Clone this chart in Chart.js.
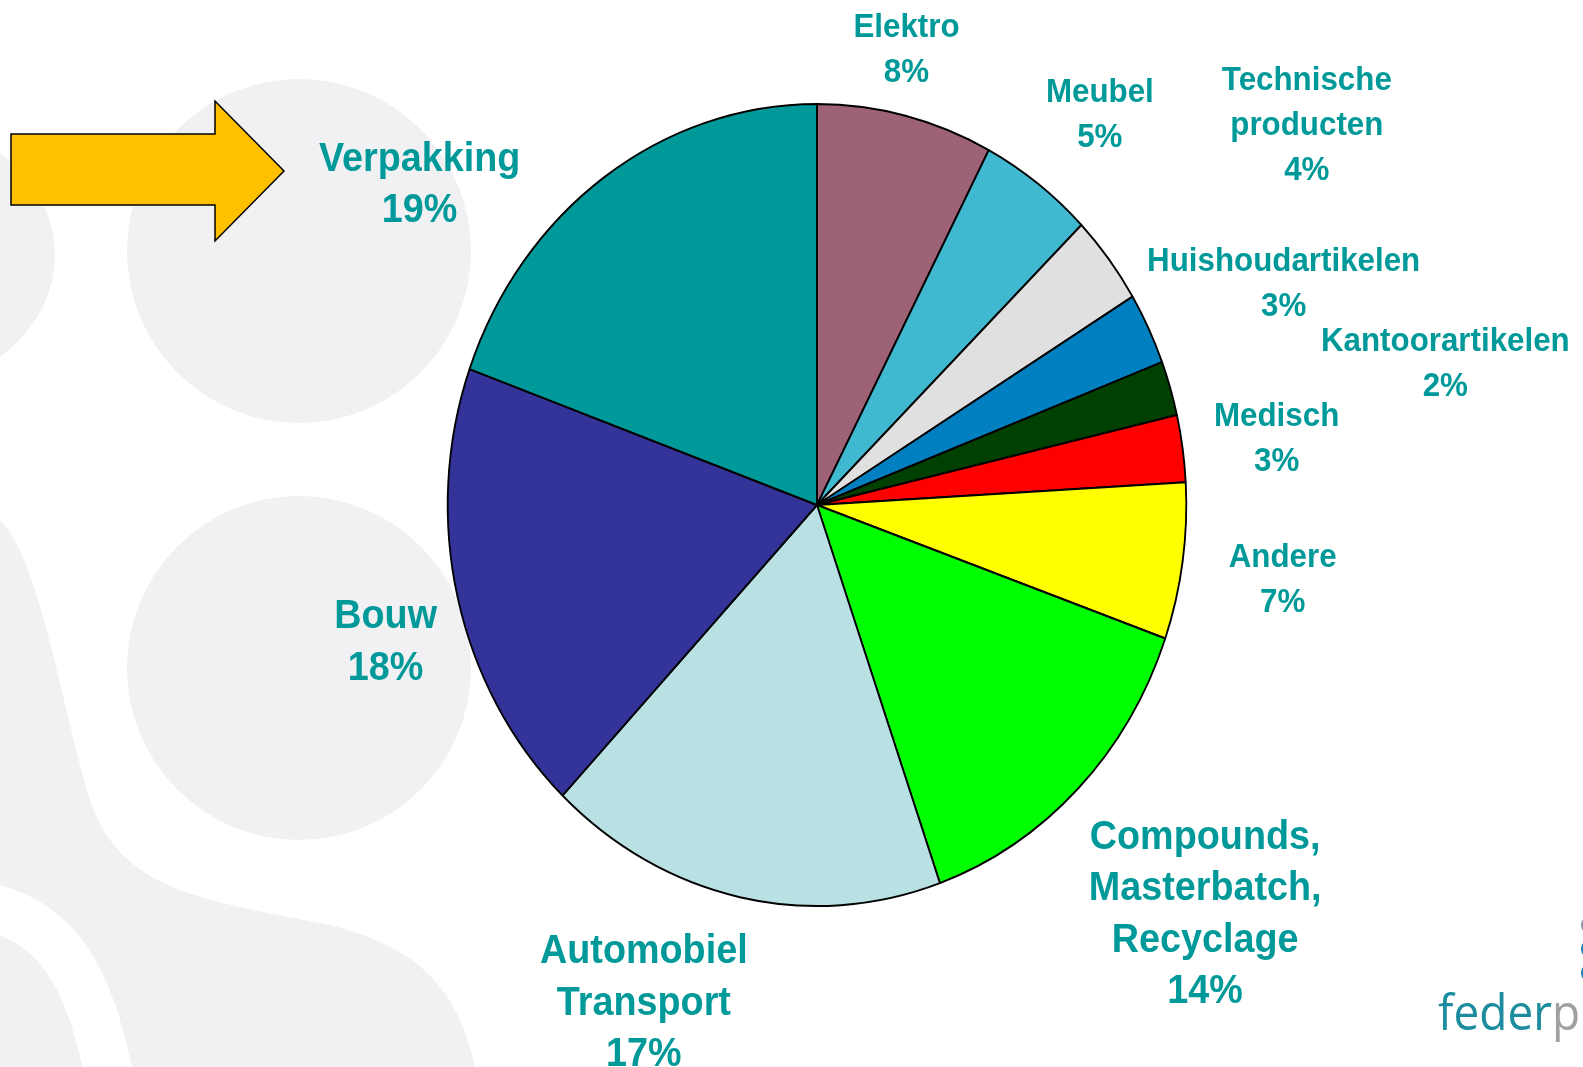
<!DOCTYPE html>
<html>
<head>
<meta charset="utf-8">
<script src="https://cdn.jsdelivr.net/npm/chart.js@4.4.1/dist/chart.umd.min.js"></script>
<style>
  html, body { margin: 0; padding: 0; background: #fff; overflow: hidden; }
  canvas { display: block; }
</style>
</head>
<body>
<canvas id="myChart" width="1583" height="1067"></canvas>
<script>
// sectors, clockwise from 12 o'clock
let categories = [
    ['Elektro'],
    ['Meubel'],
    ['Technische', 'producten'],
    ['Huishoudartikelen'],
    ['Kantoorartikelen'],
    ['Medisch'],
    ['Andere'],
    ['Compounds,', 'Masterbatch,', 'Recyclage'],
    ['Automobiel', 'Transport'],
    ['Bouw'],
    ['Verpakking']
]

// share of each slice as drawn
let shares = [7.7, 5.0, 3.6, 2.9, 2.2, 2.7, 6.3, 14.2, 17.5, 18.4, 19.5]

// percentages as printed on the slide
let percentLabels = ['8%', '5%', '4%', '3%', '2%', '3%', '7%', '14%', '17%', '18%', '19%']

let sliceColors = [
    '#9e6276',
    '#40b8cf',
    '#e0e0e0',
    '#0080c0',
    '#004000',
    '#ff0000',
    '#ffff00',
    '#00ff00',
    '#b9e0e3',
    '#333399',
    '#009999'
]

// label placement: offset from the outer edge of each slice, and big/small text
let labelOffsets = [
    [1, -79], [62, -82], [198, -169], [135, -58], [275, -37], [94, -22],
    [100, 5], [127, 60], [-96, 66], [-72, 31], [-185, -6]
]
let bigLabel = [false, false, false, false, false, false, false, true, true, true, true]

// the slide is squeezed horizontally
const SQUEEZE = 0.921
const TEAL = '#009999'

let squeezePlugin = {
    id: 'squeeze',
    beforeDatasetsDraw(chart) {
        let arc = chart.getDatasetMeta(0).data[0]
        let ctx = chart.ctx
        ctx.save()
        ctx.translate(arc.x, 0)
        ctx.scale(SQUEEZE, 1)
        ctx.translate(-arc.x, 0)
    },
    afterDatasetsDraw(chart) {
        chart.ctx.restore()
    }
}

let backdropPlugin = {
    id: 'backdrop',
    beforeDraw(chart) {
        let ctx = chart.ctx
        ctx.save()
        ctx.fillStyle = '#ffffff'
        ctx.fillRect(0, 0, chart.width, chart.height)

        ctx.fillStyle = '#f1f1f4'
        ctx.beginPath(); ctx.arc(299, 251, 172, 0, Math.PI * 2); ctx.fill()
        ctx.beginPath(); ctx.arc(299, 668, 172, 0, Math.PI * 2); ctx.fill()
        ctx.beginPath(); ctx.ellipse(-105, 255, 160, 135, 0, 0, Math.PI * 2); ctx.fill()

        ctx.beginPath()
        ctx.moveTo(0, 520)
        ctx.bezierCurveTo(40, 560, 60, 700, 90, 800)
        ctx.bezierCurveTo(120, 890, 200, 900, 330, 925)
        ctx.bezierCurveTo(430, 950, 460, 1000, 475, 1067)
        ctx.lineTo(0, 1067)
        ctx.closePath()
        ctx.fill()

        ctx.strokeStyle = '#ffffff'
        ctx.lineWidth = 48
        ctx.beginPath()
        ctx.moveTo(-20, 905)
        ctx.bezierCurveTo(60, 920, 90, 980, 110, 1080)
        ctx.stroke()

        // arrow
        ctx.fillStyle = '#ffc000'
        ctx.strokeStyle = '#000000'
        ctx.lineWidth = 1.5
        ctx.beginPath()
        ctx.moveTo(11, 134)
        ctx.lineTo(215, 134)
        ctx.lineTo(215, 101)
        ctx.lineTo(284, 171)
        ctx.lineTo(215, 241)
        ctx.lineTo(215, 205)
        ctx.lineTo(11, 205)
        ctx.closePath()
        ctx.fill()
        ctx.stroke()

        // logo
        ctx.font = '50px "Open Sans"'
        ctx.textBaseline = 'alphabetic'
        ctx.textAlign = 'left'
        ctx.save()
        ctx.translate(1438, 1030)
        ctx.scale(0.92, 1)
        ctx.fillStyle = '#1d8c9e'
        ctx.fillText('feder', 0, 0)
        let w = ctx.measureText('feder').width
        ctx.fillStyle = '#a0a0a0'
        ctx.fillText('p', w, 0)
        ctx.restore()
        let dots = ['#8a97a8', '#1a7fb5', '#1a7fb5']
        dots.forEach((c, i) => {
            ctx.fillStyle = c
            ctx.beginPath(); ctx.arc(1591, 925 + i * 24, 10, 0, Math.PI * 2); ctx.fill()
        })
        ctx.restore()
    }
}

let labelPlugin = {
    id: 'sliceLabels',
    afterDraw(chart) {
        let ctx = chart.ctx
        let arcs = chart.getDatasetMeta(0).data
        ctx.save()
        ctx.fillStyle = TEAL
        ctx.textAlign = 'center'
        ctx.textBaseline = 'alphabetic'
        arcs.forEach((arc, i) => {
            let mid = (arc.startAngle + arc.endAngle) / 2
            let px = arc.x + Math.cos(mid) * arc.outerRadius * SQUEEZE
            let py = arc.y + Math.sin(mid) * arc.outerRadius
            let ax = px + labelOffsets[i][0]
            let ay = py + labelOffsets[i][1]
            let size = bigLabel[i] ? 41 : 34
            let lh = bigLabel[i] ? 51.5 : 45
            let lines = categories[i].concat([percentLabels[i]])
            ctx.font = 'bold ' + size + 'px "Liberation Sans", Arial, sans-serif'
            lines.forEach((line, k) => {
                ctx.save()
                ctx.translate(ax, ay + k * lh)
                ctx.scale(SQUEEZE, 1)
                ctx.fillText(line, 0, 0)
                ctx.restore()
            })
        })
        ctx.restore()
    }
}

let ctx = document.getElementById('myChart')
let myChart = new Chart(ctx, {
    type: 'pie',
    data: {
        labels: categories.map(l => l.join(' ')),
        datasets: [
            {
                data: shares,
                backgroundColor: sliceColors,
                borderColor: '#000000',
                borderWidth: 2
            }
        ]
    },
    options: {
        responsive: false,
        animation: false,
        events: [],
        layout: {
            padding: { left: 415, right: 364, top: 103, bottom: 160 }
        },
        plugins: {
            legend: { display: false },
            tooltip: { enabled: false }
        }
    },
    plugins: [backdropPlugin, squeezePlugin, labelPlugin]
})
</script>
</body>
</html>
